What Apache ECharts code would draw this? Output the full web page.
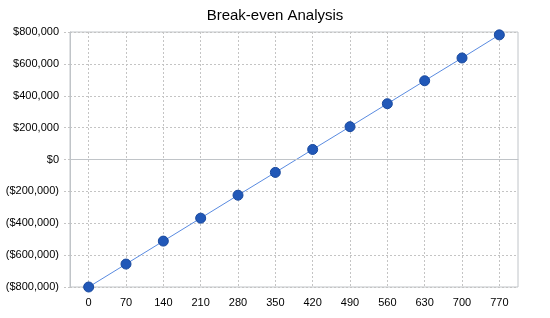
<!DOCTYPE html>
<html><head><meta charset="utf-8">
<script src="https://cdn.jsdelivr.net/npm/echarts@6/dist/echarts.min.js"></script>
<style>html,body{margin:0;padding:0;background:#fff}#c{width:550px;height:318px}</style>
</head><body><div id="c"></div>
<script>
const title = 'Break-even Analysis';
const categories = ['0','70','140','210','280','350','420','490','560','630','700','770'];
const values = [-800000,-656000,-512000,-368000,-224000,-81000,63000,206000,350000,494000,637000,782000];
const yMin = -800000, yMax = 800000, yStep = 200000;

function fmt(v){
  const s = '$' + Math.abs(v).toLocaleString('en-US');
  return v < 0 ? '(' + s + ')' : s;
}
const chart = echarts.init(document.getElementById('c'));
chart.setOption({
  animation:false,
  backgroundColor:'#fff',
  title:{text:title,left:'center',top:3,textStyle:{fontFamily:'Liberation Sans, Arial',fontSize:15,fontWeight:'normal',color:'#000'}},
  grid:{left:70,right:32,top:32,bottom:31,show:true,borderColor:'#c0c4c8',borderWidth:1},
  xAxis:{type:'category',data:categories,boundaryGap:true,
    axisLine:{lineStyle:{color:'#c0c4c8'}},
    axisTick:{show:false},
    axisLabel:{color:'#000',fontFamily:'Liberation Sans, Arial',fontSize:11,margin:10},
    splitLine:{show:true,alignWithLabel:true,lineStyle:{color:'#c4c4c4',type:[2,2]}}},
  yAxis:{type:'value',min:yMin,max:yMax,interval:yStep,
    axisLine:{show:true,lineStyle:{color:'#c0c4c8'}},
    axisTick:{show:true,length:6,lineStyle:{color:'#c4c4c4',type:[2,2]}},
    axisLabel:{color:'#000',fontFamily:'Liberation Sans, Arial',fontSize:11,margin:11,formatter:fmt},
    splitLine:{show:true,lineStyle:{color:'#c4c4c4',type:[2,2]}}},
  series:[{type:'line',data:values,symbol:'circle',symbolSize:10,
    lineStyle:{color:'#5a8be0',width:1},
    itemStyle:{color:'#2158b8',borderColor:'#1a4a9e',borderWidth:1},
    markLine:{silent:true,symbol:'none',label:{show:false},lineStyle:{color:'#c0c4c8',type:'solid',width:1},data:[{yAxis:0}]},
    z:3}]
});
</script></body></html>
